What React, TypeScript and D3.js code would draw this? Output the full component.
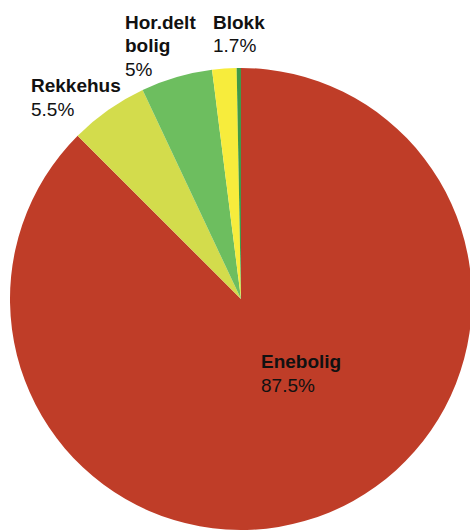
import React from "react";
import * as d3 from "d3";

const categories = ["Enebolig", "Rekkehus", "Hor.delt bolig", "Blokk", "Annet"];
const values = [87.5, 5.5, 5, 1.7, 0.3];
const valueLabels = ["87.5%", "5.5%", "5%", "1.7%", ""];
const nameLines = [["Enebolig"], ["Rekkehus"], ["Hor.delt", "bolig"], ["Blokk"], []];
const colors = ["#bf3d28", "#d3dc4c", "#6dbe5f", "#f7ec3c", "#3f9a48"];
const labelPos = [
  [261, 368],
  [31, 92],
  [125, 28.5],
  [213, 28.5],
  [0, 0],
];

export default function App() {
  const W = 470;
  const H = 530;
  const cx = 241;
  const cy = 299;
  const r = 231;
  const lineH = 23.5;

  const pie = d3
    .pie<number>()
    .sort(null)
    .value((d) => d)
    .startAngle(0)
    .endAngle(2 * Math.PI);
  const arcs = pie(values);
  const arc = d3.arc<d3.PieArcDatum<number>>().innerRadius(0).outerRadius(r);

  return (
    <svg
      width={W}
      height={H}
      style={{ position: "absolute", left: 0, top: 0, background: "#fff" }}
      fontFamily="'Liberation Sans', Arial, Helvetica, sans-serif"
    >
      <g transform={`translate(${cx},${cy})`}>
        {arcs.map((a, i) => (
          <path key={categories[i]} d={arc(a) || ""} fill={colors[i]} />
        ))}
      </g>
      {categories.map((c, i) => {
        const lines = nameLines[i];
        if (!lines.length) return null;
        const [x, y] = labelPos[i];
        return (
          <text key={c} x={x} y={y} fontSize={19} fill="#111">
            {lines.map((l, k) => (
              <tspan key={k} x={x} y={y + k * lineH} fontWeight="bold">
                {l}
              </tspan>
            ))}
            <tspan x={x} y={y + lines.length * lineH}>
              {valueLabels[i]}
            </tspan>
          </text>
        );
      })}
    </svg>
  );
}
